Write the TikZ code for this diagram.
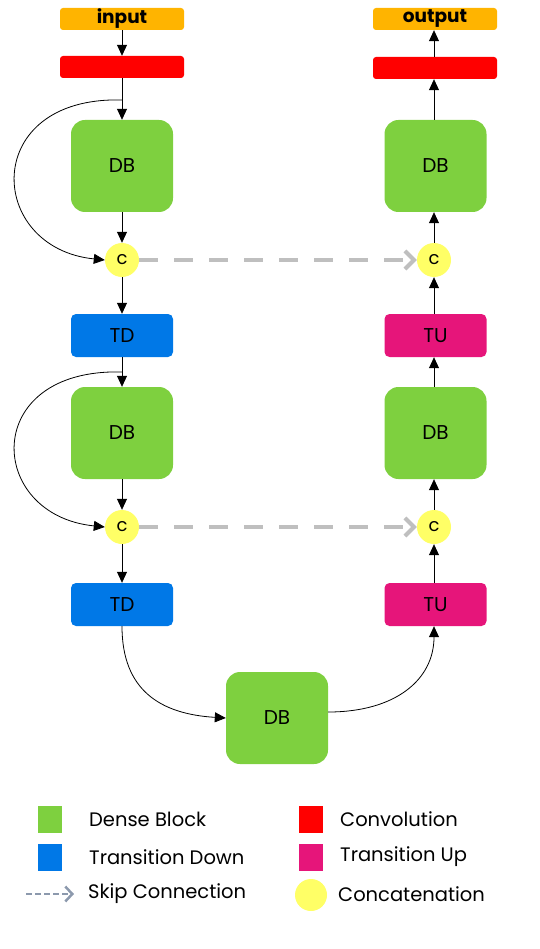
\documentclass[tikz,border=0pt]{standalone}
\usepackage{fontspec}
\setmainfont{Poppins}
\usetikzlibrary{arrows.meta}
\definecolor{cin}{HTML}{FFB400}
\definecolor{cconv}{HTML}{FF0000}
\definecolor{cdb}{HTML}{7ED03F}
\definecolor{ctd}{HTML}{0078E7}
\definecolor{ctu}{HTML}{E6157A}
\definecolor{ccat}{HTML}{FFFF66}
\definecolor{cskip}{HTML}{BFBFBF}
\definecolor{clegskip}{HTML}{8C99AD}
\tikzset{
  io/.style={fill=cin, rounded corners=3pt, minimum width=124pt, minimum height=22pt, inner sep=0pt, font=\fontsize{18.5}{18.5}\selectfont\bfseries},
  convbox/.style={fill=cconv, rounded corners=3pt, minimum width=124pt, minimum height=22pt, inner sep=0pt},
  dbbox/.style={fill=cdb, rounded corners=14pt, minimum width=102pt, minimum height=92pt, inner sep=0pt, font=\fontsize{20}{20}\selectfont},
  tdbox/.style={fill=ctd, rounded corners=5pt, minimum width=102pt, minimum height=43pt, inner sep=0pt, font=\fontsize{20}{20}\selectfont},
  tubox/.style={fill=ctu, rounded corners=5pt, minimum width=102pt, minimum height=43pt, inner sep=0pt, font=\fontsize{20}{20}\selectfont},
  catnode/.style={circle, fill=ccat, minimum size=34pt, inner sep=0pt, font=\fontsize{18}{18}\selectfont},
  flow/.style={line width=0.8pt, -{Triangle[length=11pt,width=10pt]}},
  skip/.style={draw=cskip, line width=4pt, dash pattern=on 19pt off 16pt, -{Straight Barb[length=9pt,width=18pt,line width=4pt]}},
  legsq/.style={minimum width=24pt, minimum height=27pt, inner sep=0pt},
  legtxt/.style={anchor=west, inner sep=0pt, font=\fontsize{19.5}{19.5}\selectfont},
}
\begin{document}
\begin{tikzpicture}[x=1pt,y=-1pt]
\useasboundingbox (0,0) rectangle (539,949);
% left column
\node[io] (in) at (122,19) {input};
\node[convbox] (convL) at (122,67) {};
\node[dbbox] (db1) at (122,166) {DB};
\node[catnode] (c1) at (122,260) {c};
\node[tdbox] (td1) at (122,335.5) {TD};
\node[dbbox] (db2) at (122,433) {DB};
\node[catnode] (c2) at (122,527) {c};
\node[tdbox] (td2) at (122,604.5) {TD};
% bottom
\node[dbbox] (db3) at (277,718) {DB};
% right column
\node[tubox] (tu2) at (435.5,604.5) {TU};
\node[catnode] (c3) at (434,527) {c};
\node[dbbox] (db4) at (435.5,433) {DB};
\node[tubox] (tu1) at (435.5,335.5) {TU};
\node[catnode] (c4) at (434,260) {c};
\node[dbbox] (db5) at (435.5,166) {DB};
\node[convbox] (convR) at (435,68) {};
\node[io] (out) at (435,19) {output};
\coordinate (b1) at (122,100);
\coordinate (b2) at (122,372);
% left arrows
\draw[flow] (in) -- (convL);
\draw[flow] (convL) -- (db1);
\draw[flow] (db1) -- (c1);
\draw[flow] (b1) .. controls (-20,96) and (-14,248) .. (c1.west);
\draw[flow] (c1) -- (td1);
\draw[flow] (td1) -- (db2);
\draw[flow] (db2) -- (c2);
\draw[flow] (b2) .. controls (-20,368) and (-14,515) .. (c2.west);
\draw[flow] (c2) -- (td2);
% bottom
\draw[flow] (td2.south) .. controls (122,690) and (160,714) .. (db3.west);
\draw[flow] (db3.east) ++(0,-6) .. controls (395,712) and (434,680) .. (tu2.south -| c3);
% right arrows
\draw[flow] (tu2.north -| c3) -- (c3);
\draw[flow] (c3) -- (db4.south -| c3);
\draw[flow] (db4.north -| c3) -- (tu1.south -| c3);
\draw[flow] (tu1.north -| c3) -- (c4);
\draw[flow] (c4) -- (db5.south -| c4);
\draw[flow] (db5.north -| c4) -- (convR.south -| c4);
\draw[flow] (convR.north -| c4) -- (out.south -| c4);
% skips
\draw[skip] (c1.east) -- (c4.west);
\draw[skip] (c2.east) -- (c3.west);
% legend
\node[legsq, fill=cdb] (lg1) at (50,819.5) {};
\node[legtxt] (lt1) at (89,819) {Dense Block};
\node[legsq, fill=ctd] (lg2) at (50,857) {};
\node[legtxt] (lt2) at (89,857) {Transition Down};
\coordinate (ls0) at (26,894);
\coordinate (ls1) at (74,894);
\draw[clegskip, line width=2.2pt, dash pattern=on 6pt off 3pt, -{Straight Barb[length=7pt,width=15pt,line width=2.5pt]}] (ls0) -- (ls1);
\node[legtxt] (lt3) at (88,894) {Skip Connection};
\node[legsq, fill=cconv] (lg4) at (311,819.5) {};
\node[legtxt] (lt4) at (340,819) {Convolution};
\node[legsq, fill=ctu] (lg5) at (311,857) {};
\node[legtxt] (lt5) at (340,857) {Transition Up};
\node[circle, fill=ccat, minimum size=32pt, inner sep=0pt] (lg6) at (311,895) {};
\node[legtxt] (lt6) at (338,894) {Concatenation};
\end{tikzpicture}
\end{document}
